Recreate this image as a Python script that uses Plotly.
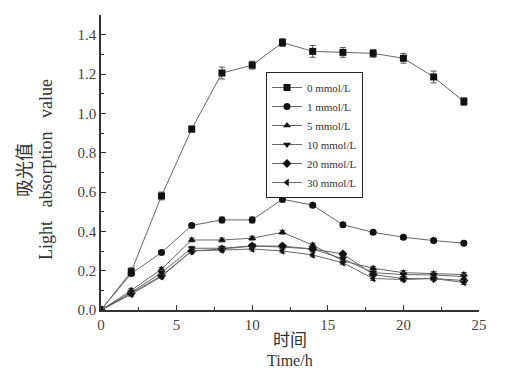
import plotly.graph_objects as go

time_h = [0, 2, 4, 6, 8, 10, 12, 14, 16, 18, 20, 22, 24]
names = ["0 mmol/L", "1 mmol/L", "5 mmol/L", "10 mmol/L", "20 mmol/L", "30 mmol/L"]
v0 = [0, 0.195, 0.58, 0.92, 1.205, 1.245, 1.36, 1.315, 1.31, 1.305, 1.28, 1.185, 1.06]
v1 = [0, 0.185, 0.292, 0.43, 0.458, 0.458, 0.563, 0.533, 0.433, 0.395, 0.37, 0.353, 0.34]
v5 = [0, 0.10, 0.207, 0.356, 0.356, 0.365, 0.395, 0.33, 0.25, 0.212, 0.19, 0.185, 0.18]
v10 = [0, 0.09, 0.19, 0.314, 0.314, 0.326, 0.32, 0.31, 0.26, 0.19, 0.18, 0.178, 0.17]
v20 = [0, 0.085, 0.175, 0.30, 0.31, 0.325, 0.325, 0.31, 0.285, 0.18, 0.16, 0.16, 0.15]
v30 = [0, 0.08, 0.17, 0.30, 0.305, 0.31, 0.30, 0.28, 0.24, 0.16, 0.155, 0.16, 0.14]
err0 = [0, 0.02, 0.02, 0.015, 0.03, 0.02, 0.02, 0.03, 0.025, 0.02, 0.025, 0.03, 0.02]
err1 = [0, 0.01, 0.01, 0.01, 0.015, 0.015, 0.015, 0.01, 0.01, 0.01, 0.01, 0.01, 0.01]
errs = [0.01] * 13

series = [v0, v1, v5, v10, v20, v30]
errors = [err0, err1, errs, errs, errs, errs]
symbols = ["square", "circle", "triangle-up", "triangle-down", "diamond", "triangle-left"]

FONT = "Liberation Serif, Times New Roman, Noto Sans CJK SC, serif"

# page has an 8px body margin; figure sized to fit inside the 517x377 window
W, H = 501, 361
L, R, T, B = 93, 30, 7, 59
PW, PH = W - L - R, H - T - B

fig = go.Figure()
for name, vals, err, sym in zip(names, series, errors, symbols):
    fig.add_trace(go.Scatter(
        x=time_h, y=vals, name=name, mode="lines+markers",
        line=dict(color="#666666", width=1),
        marker=dict(symbol=sym, size=7, color="#111111"),
        error_y=dict(type="data", array=err, color="#555555", thickness=1, width=3),
    ))

def px_x(page_x):
    return (page_x - 8 - L) / PW

def px_y(page_y):
    return (H - B - (page_y - 8)) / PH

fig.update_layout(
    width=W, height=H,
    margin=dict(l=L, r=R, t=T, b=B),
    paper_bgcolor="white", plot_bgcolor="white",
    font=dict(family=FONT, size=12, color="#333333"),
    legend=dict(
        x=px_x(266), y=px_y(72), xanchor="left", yanchor="top",
        bordercolor="#222222", borderwidth=1, bgcolor="white",
        font=dict(family=FONT, size=11, color="#333333"),
        tracegroupgap=0, itemwidth=30,
    ),
    xaxis=dict(
        range=[0, 25], tickvals=[0, 5, 10, 15, 20, 25],
        ticks="inside", ticklen=5, tickcolor="#333333",
        minor=dict(ticks="inside", ticklen=3, dtick=2.5, tickcolor="#333333"),
        showline=True, linecolor="#333333", linewidth=1.5,
        showgrid=False, zeroline=False,
        tickfont=dict(family=FONT, size=15, color="#444444"),
    ),
    yaxis=dict(
        range=[0, 1.5], tickvals=[0, 0.2, 0.4, 0.6, 0.8, 1.0, 1.2, 1.4],
        tickformat=".1f",
        ticks="inside", ticklen=5, tickcolor="#333333",
        minor=dict(ticks="inside", ticklen=3, dtick=0.1, tickcolor="#333333"),
        showline=True, linecolor="#333333", linewidth=1.5,
        showgrid=False, zeroline=False,
        tickfont=dict(family=FONT, size=15, color="#444444"),
    ),
    annotations=[
        dict(text="时间", x=0.5, y=px_y(341), xref="paper", yref="paper",
             xanchor="center", yanchor="middle", showarrow=False,
             font=dict(family=FONT, size=17, color="#333333")),
        dict(text="Time/h", x=0.5, y=px_y(360), xref="paper", yref="paper",
             xanchor="center", yanchor="middle", showarrow=False,
             font=dict(family=FONT, size=16, color="#333333")),
        dict(text="吸光值", x=px_x(25), y=px_y(170), xref="paper", yref="paper",
             xanchor="center", yanchor="middle", showarrow=False, textangle=-90,
             font=dict(family=FONT, size=18, color="#333333")),
        dict(text="Light\u00a0\u00a0 absorption\u00a0\u00a0 value", x=px_x(46), y=px_y(170),
             xref="paper", yref="paper",
             xanchor="center", yanchor="middle", showarrow=False, textangle=-90,
             font=dict(family=FONT, size=18, color="#333333")),
    ],
)

fig.write_html("out.html")
